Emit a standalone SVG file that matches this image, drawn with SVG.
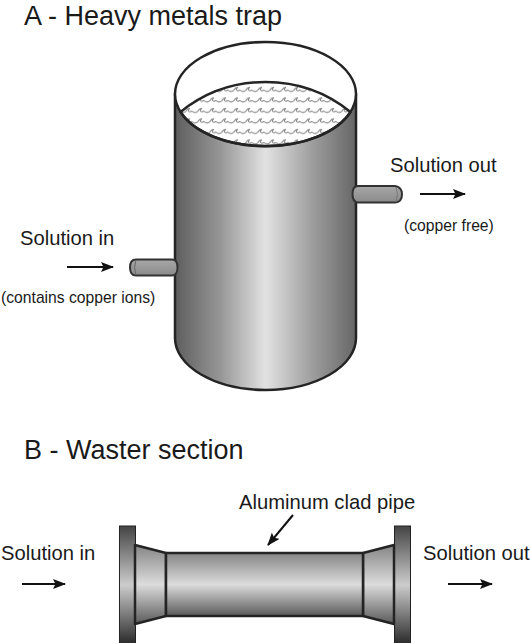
<svg xmlns="http://www.w3.org/2000/svg" width="530" height="643" viewBox="0 0 530 643">
<style>
text{font-family:"Liberation Sans",Arial,sans-serif;fill:#1a1a1a}
.h{font-size:27px}.l{font-size:20.2px}.s{font-size:15.700px}
.o{stroke:#242424;stroke-width:2.500;stroke-linejoin:round}
.t{stroke:#333;stroke-width:2;stroke-linejoin:round}
.a{stroke:#111;stroke-width:2;fill:none}
</style>
<defs>
<linearGradient id="v" x1="0" x2="1" y1="0" y2="0"><stop offset="0" stop-color="#5e5e5e"/><stop offset=".25" stop-color="#969696"/><stop offset=".5" stop-color="#e2e2e2"/><stop offset=".75" stop-color="#a0a0a0"/><stop offset="1" stop-color="#666"/></linearGradient>
<linearGradient id="p" x1="0" x2="0" y1="0" y2="1"><stop offset="0" stop-color="#858585"/><stop offset=".5" stop-color="#dcdcdc"/><stop offset="1" stop-color="#5a5a5a"/></linearGradient>
<linearGradient id="f" x1="0" x2="0" y1="0" y2="1"><stop offset="0" stop-color="#444"/><stop offset=".5" stop-color="#ccc"/><stop offset="1" stop-color="#2a2a2a"/></linearGradient>
<linearGradient id="c" x1="0" x2="0" y1="0" y2="1"><stop offset="0" stop-color="#a8a8a8"/><stop offset="1" stop-color="#8a8a8a"/></linearGradient>
<pattern id="w" width="12" height="10.500" patternUnits="userSpaceOnUse" x="180" y="84"><path d="M0 6q3 3 6 0q1.500-3 4-2.500q-2 .5-1.500 2.500q1 1.500 3.500 0" fill="none" stroke="#888" stroke-width="1.100"/></pattern>
<marker id="m" markerWidth="13" markerHeight="10" refX="12" refY="5" orient="auto" markerUnits="userSpaceOnUse"><path d="M0 0L13 5L0 10L2.500 5Z" fill="#111"/></marker>
</defs>
<g id="title-a"><text class="h" x="24" y="24.500">A - Heavy metals trap</text></g>
<g id="trap">
<path class="o" d="M175 94V338A90.500 52 0 0 0 356 338V94Z" fill="url(#v)"/>
<ellipse cx="265.500" cy="94" rx="90.500" ry="52" fill="#fff"/>
<path d="M180.500 112C205 92 235 82 265.500 82S326 92 350.500 112A90.500 52 0 0 1 180.500 112Z" fill="url(#w)" class="o"/>
<ellipse class="o" cx="265.500" cy="94" rx="90.500" ry="52" fill="none"/>
</g>
<g id="pipe-in"><path class="t" d="M136 259.500H172Q177.500 259.500 177.500 267.500Q177.500 275.500 172 275.500H136Q130 275.500 130 267.500Q130 259.500 136 259.500Z" fill="url(#c)"/><path d="M136 260Q133 267 136 275" fill="none" stroke="#666"/></g>
<g id="pipe-out"><path class="t" d="M358 186H395Q402 187 402 194.500Q402 202 395 202.500H358Q352.500 202 352.500 194Q352.500 186 358 186Z" fill="url(#c)"/><path d="M396 187Q399 194 396 202" fill="none" stroke="#777"/></g>
<g id="labels-a">
<text class="l" x="20" y="245">Solution in</text>
<text class="s" x="1" y="303">(contains copper ions)</text>
<text class="l" x="390" y="172">Solution out</text>
<text class="s" x="404" y="231">(copper free)</text>
</g>
<g id="title-b"><text class="h" x="24" y="459">B - Waster section</text></g>
<g id="waster">
<rect x="119.500" y="526" width="16" height="118" fill="url(#f)" stroke="#222"/>
<rect x="394.500" y="526" width="16" height="118" fill="url(#f)" stroke="#222"/>
<path class="o" d="M135 545L166 553V616L135 624Z" fill="url(#p)" stroke-width="2"/>
<path class="o" d="M394 545L363 553V616L394 624Z" fill="url(#p)" stroke-width="2"/>
<rect class="o" x="166" y="553" width="197" height="63" fill="url(#p)" stroke-width="2"/>
</g>
<g id="labels-b">
<text class="l" x="239" y="509">Aluminum clad pipe</text>
<text class="l" x="1" y="560">Solution in</text>
<text class="l" x="423" y="560">Solution out</text>
</g>
<g id="connectors">
<path class="a" d="M67 267H113" marker-end="url(#m)"/>
<path class="a" d="M420 194H465" marker-end="url(#m)"/>
<path class="a" d="M22 584H65" marker-end="url(#m)"/>
<path class="a" d="M448 584H492" marker-end="url(#m)"/>
<path class="a" d="M293 515L268 545" stroke-width="2.500" marker-end="url(#m)"/>
</g>
</svg>
